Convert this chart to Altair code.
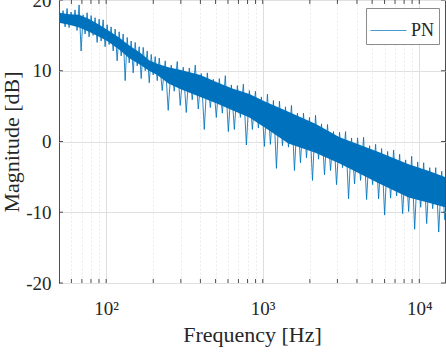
import altair as alt
import pandas as pd

# PN magnitude trace: alternating peaks and troughs (Hz, dB)
trace_freq = [
    50.0, 51.5, 53.1, 54.7, 56.3, 58.0, 59.7, 61.5, 63.3, 65.2,
    67.2, 69.2, 71.3, 73.4, 75.6, 77.8, 80.2, 82.6, 85.0, 87.6,
    90.2, 92.9, 95.7, 98.5, 101.5, 104.5, 107.6, 110.9, 114.2, 117.6,
    121.1, 124.8, 128.5, 132.3, 136.3, 140.4, 144.5, 148.9, 153.3, 157.9,
    162.6, 167.5, 172.5, 177.7, 183.0, 188.5, 194.1, 199.8, 205.8, 212.0,
    218.4,
    228.2, 238.5, 249.2, 260.5, 272.3, 284.6, 297.4, 310.8, 324.9, 339.6,
    354.9, 370.9, 387.7, 405.2, 423.6, 442.7, 462.7, 483.6, 505.4, 528.4,
    552.3, 577.2, 603.3, 630.6, 659.1, 688.9, 720.0, 752.5, 786.6, 822.1,
    859.3, 898.1, 938.7, 981.1, 1025, 1072, 1120, 1171, 1224, 1279,
    1337, 1398, 1461, 1527, 1595, 1667, 1743, 1822, 1904, 1990,
    2080, 2174, 2272, 2375, 2482, 2594, 2712, 2834, 2962, 3096,
    3236, 3382, 3535, 3694, 3861, 4036, 4218, 4409, 4608, 4816,
    5033, 5261, 5499, 5747, 6007, 6278, 6562, 6858, 7168, 7492,
    7830, 8184, 8554, 8941, 9345, 9767, 10210, 10670, 11150, 11660,
    12180, 12740, 13310, 13910, 14540,
]
trace_db = [
    19.0, 16.8, 18.5, 16.2, 18.8, 16.1, 18.3, 16.5, 18.6, 15.7,
    19.3, 12.8, 17.9, 15.2, 18.2, 14.8, 17.8, 15.0, 17.5, 14.0,
    17.3, 14.2, 17.2, 13.4, 16.5, 13.7, 16.2, 12.8, 15.9, 11.4,
    15.5, 12.1, 15.2, 8.6, 14.7, 11.1, 14.2, 9.7, 14.0, 10.7,
    13.4, 8.9, 13.3, 10.0, 12.8, 8.3, 12.3, 9.4, 12.0, 8.6,
    11.8,
    7.2, 11.4, 4.4, 10.8, 7.1, 11.3, 5.1, 10.5, 4.1, 10.4,
    5.9, 10.8, 4.6, 9.6, 1.7, 9.7, 4.8, 8.8, 3.4, 8.9,
    4.0, 9.3, 1.4, 8.0, 1.7, 7.9, 3.4, 8.1, -0.5, 7.2,
    1.7, 7.1, 1.9, 6.3, -0.7, 6.7, -0.4, 5.8, -3.8, 5.7,
    -0.6, 4.9, -0.8, 5.1, -4.1, 4.0, -3.0, 4.0, -2.3, 3.4,
    -5.5, 3.7, -2.5, 2.5, -4.7, 2.4, -4.1, 1.4, -6.1, 1.3,
    -3.7, 1.4, -8.1, 0.5, -6.0, 0.5, -5.5, 0.6, -8.2, -0.6,
    -6.1, -0.4, -8.1, -1.0, -10.4, -1.4, -8.0, -1.2, -7.7, -1.8,
    -10.2, -2.6, -9.9, -2.1, -12.4, -2.9, -9.3, -3.0, -11.6, -3.7,
    -9.5, -3.7, -12.8, -4.2, -11.1,
]

# Dense core of the trace, where the spectrum fills solid
band_freq = [50, 58, 67.2, 77.8, 90.2, 101.5, 121, 140, 166, 188, 212, 250, 300,
             400, 505, 640, 822, 1025, 1460, 2170, 3100, 5500, 8550, 11650, 14600]
band_hi = [18.2, 18.0, 17.9, 17.3, 16.5, 15.8, 14.7, 13.6, 12.5, 11.5, 11.0, 10.5, 10.1,
           9.4, 8.4, 7.5, 6.7, 5.7, 4.2, 2.5, 0.6, -1.5, -3.2, -4.2, -5.0]
band_lo = [16.8, 16.5, 16.1, 15.5, 14.8, 14.2, 13.0, 11.8, 10.8, 10.0, 9.4, 8.2, 7.4,
           6.3, 5.4, 4.4, 3.4, 2.0, -0.3, -1.6, -3.1, -5.9, -7.9, -8.7, -9.3]

x_tick_values = [60, 70, 80, 90, 100, 200, 300, 400, 500, 600, 700, 800, 900,
                 1000, 2000, 3000, 4000, 5000, 6000, 7000, 8000, 9000, 10000]
y_tick_values = [-20, -10, 0, 10, 20]
decade_labels = {100: "10²", 1000: "10³", 10000: "10⁴"}

W, H = 386, 283
FONT = "Liberation Serif"
INK = "#262626"
LINE_BLUE = "#0072BD"

trace = pd.DataFrame({"freq": trace_freq, "db": trace_db, "series": "PN"})
band = pd.DataFrame({"freq": band_freq, "hi": band_hi, "lo": band_lo})
xt = pd.DataFrame({"freq": x_tick_values})
yt = pd.DataFrame({"db": y_tick_values})

x_label_expr = " : ".join(
    f"datum.value == {k} ? '{v}'" for k, v in decade_labels.items()
) + " : ''"
minor_test = "indexof([100, 1000, 10000], datum.value) < 0"

x_scale = alt.Scale(type="log", domain=[50, 14600], nice=False)
y_scale = alt.Scale(domain=[-20, 20], nice=False)

x_axis = alt.Axis(
    values=x_tick_values,
    labelExpr=x_label_expr,
    title="Frequency [Hz]",
    grid=True,
    gridColor={"condition": {"test": minor_test, "value": "#ebebeb"}, "value": "#dedede"},
    gridDash={"condition": {"test": minor_test, "value": [2, 2]}, "value": []},
    gridWidth=1,
    ticks=False,
    domain=False,
    labelFont=FONT,
    labelFontSize=19,
    labelColor=INK,
    labelBaseline="alphabetic",
    labelPadding=31,
    labelOverlap=False,
    labelFlush=False,
    titleFont=FONT,
    titleFontSize=22,
    titleFontWeight="normal",
    titleColor=INK,
    titleBaseline="alphabetic",
    titleY=58,
)
y_axis = alt.Axis(
    values=y_tick_values,
    labelExpr="datum.value < 0 ? '-' + abs(datum.value) : '' + datum.value",
    title="Magnitude [dB]",
    grid=True,
    gridColor="#e0e0e0",
    gridWidth=1,
    ticks=False,
    domain=False,
    labelFont=FONT,
    labelFontSize=19,
    labelColor=INK,
    labelPadding=8,
    labelFlush=False,
    titleFont=FONT,
    titleFontSize=22,
    titleFontWeight="normal",
    titleColor=INK,
    titleAngle=270,
    titleBaseline="alphabetic",
    titleX=-41,
)

x_enc = alt.X("freq:Q", scale=x_scale, axis=x_axis)
y_enc = alt.Y("db:Q", scale=y_scale, axis=y_axis)

core = alt.Chart(band).mark_area(color=LINE_BLUE, clip=True).encode(
    x=x_enc,
    y=alt.Y("lo:Q", scale=y_scale, axis=y_axis),
    y2="hi:Q",
)

line = alt.Chart(trace).mark_line(strokeWidth=0.85, clip=True).encode(
    x=x_enc,
    y=y_enc,
    color=alt.Color(
        "series:N",
        scale=alt.Scale(domain=["PN"], range=[LINE_BLUE]),
        legend=alt.Legend(
            title=None,
            orient="none",
            legendX=307,
            legendY=8,
            symbolType="stroke",
            symbolSize=1296,
            symbolStrokeWidth=1,
            symbolOpacity=0.7,
            labelFont=FONT,
            labelFontSize=18,
            labelColor=INK,
            labelOffset=4,
            strokeColor="#8c8c8c",
            fillColor="white",
            padding=4,
            cornerRadius=0,
        ),
    ),
)

# inward tick marks on all four sides of the box
tick_style = dict(color=INK, strokeWidth=0.8)
x_ticks_bottom = alt.Chart(xt).mark_rule(**tick_style).encode(
    x=x_enc, y=alt.value(H - 4), y2=alt.value(H))
x_ticks_top = alt.Chart(xt).mark_rule(**tick_style).encode(
    x=x_enc, y=alt.value(0), y2=alt.value(4))
y_ticks_left = alt.Chart(yt).mark_rule(**tick_style).encode(
    y=y_enc, x=alt.value(0), x2=alt.value(4))
y_ticks_right = alt.Chart(yt).mark_rule(**tick_style).encode(
    y=y_enc, x=alt.value(W - 4), x2=alt.value(W))

chart = alt.layer(
    core, line, x_ticks_bottom, x_ticks_top, y_ticks_left, y_ticks_right
).properties(
    width=W,
    height=H,
    autosize=alt.AutoSizeParams(type="none"),
    padding={"left": 59, "top": 0, "right": 1, "bottom": 73},
).configure_view(
    stroke="#4d4d4d", strokeWidth=1
)

chart.save("out.html", embed_options={"renderer": "svg", "actions": False})
